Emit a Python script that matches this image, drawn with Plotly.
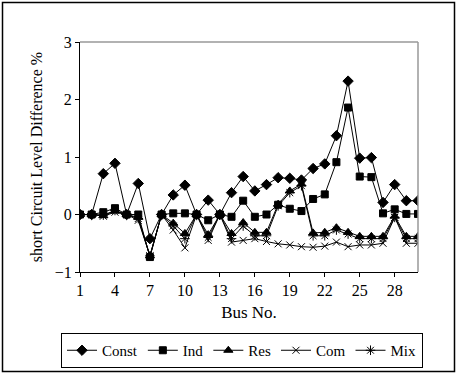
import plotly.graph_objects as go

bus = list(range(1, 31))
const = [0, 0, 0.71, 0.89, 0, 0.54, -0.42, 0, 0.34, 0.51, 0, 0.25, 0, 0.38, 0.66, 0.41, 0.52, 0.64, 0.63, 0.60, 0.80, 0.88, 1.37, 2.32, 0.98, 0.99, 0.21, 0.52, 0.24, 0.24]
ind = [0, 0, 0.04, 0.11, 0, 0.0, -0.74, 0, 0.02, 0.02, 0, -0.10, 0, -0.04, 0.24, -0.04, 0.0, 0.17, 0.10, 0.06, 0.27, 0.35, 0.91, 1.86, 0.66, 0.65, 0.02, 0.09, 0.01, 0.01]
res = [0, 0, -0.02, 0.06, 0, -0.05, -0.72, 0, -0.15, -0.33, 0, -0.35, 0, -0.33, -0.14, -0.31, -0.31, 0.18, 0.41, 0.53, -0.32, -0.31, -0.23, -0.31, -0.38, -0.38, -0.38, -0.03, -0.38, -0.38]
com = [0, 0, -0.03, 0.04, 0, -0.10, -0.72, 0, -0.27, -0.58, 0, -0.45, 0, -0.48, -0.45, -0.42, -0.47, -0.51, -0.53, -0.56, -0.57, -0.55, -0.48, -0.56, -0.53, -0.53, -0.50, -0.05, -0.50, -0.50]
mix = [0, 0, -0.01, 0.07, 0, -0.07, -0.72, 0, -0.20, -0.42, 0, -0.40, 0, -0.42, -0.20, -0.37, -0.37, 0.15, 0.38, 0.50, -0.37, -0.37, -0.27, -0.34, -0.42, -0.42, -0.42, -0.05, -0.42, -0.42]

names = ["Const", "Ind", "Res", "Com", "Mix"]
series = [const, ind, res, com, mix]
symbols = ["diamond", "square", "triangle-up", "x-thin-open", "asterisk-open"]
sizes = [8, 7, 8, 7, 8]

fig = go.Figure()
for n, s, sym, sz in zip(names, series, symbols, sizes):
    fig.add_trace(go.Scatter(
        x=bus, y=s, name=n, mode="lines+markers",
        line=dict(color="black", width=1),
        marker=dict(symbol=sym, size=sz, color="black", line=dict(color="black", width=1)),
    ))

W, H = 458, 374
L, R, T, B = 80, 40, 42, 102
pw, ph = W - L - R, H - T - B

def px(xp):
    return (xp - L) / pw

def py(yp):
    return (H - B - yp) / ph

fig.update_layout(
    width=W, height=H,
    margin=dict(l=L, r=R, t=T, b=B, autoexpand=False),
    paper_bgcolor="white", plot_bgcolor="white",
    font=dict(family="Liberation Serif", size=16, color="black"),
    showlegend=True,
    legend=dict(orientation="h", xref="paper", yref="paper",
                x=px(61), y=py(333), xanchor="left", yanchor="top",
                bordercolor="black", borderwidth=1, font=dict(size=15),
                itemwidth=30, tracegroupgap=0),
    xaxis=dict(range=[1, 30], tickmode="array", tickvals=list(range(1, 31, 3)),
               ticktext=[str(v) for v in range(1, 31, 3)],
               showline=True, linecolor="black", linewidth=1, ticks="outside", ticklen=4,
               tickcolor="black", showgrid=False, zeroline=False,
               title=dict(text="Bus No.", font=dict(size=17), standoff=7)),
    yaxis=dict(range=[-1, 3], dtick=1, showline=True, linecolor="black", linewidth=1,
               ticks="outside", ticklen=4, tickcolor="black", showgrid=False, zeroline=False,
               title=dict(text="short Circuit Level Difference %", font=dict(size=16), standoff=8)),
    shapes=[
        dict(type="line", xref="paper", yref="paper", x0=0, x1=1, y0=1, y1=1,
             line=dict(color="#999999", width=1.5)),
        dict(type="line", xref="paper", yref="paper", x0=1, x1=1, y0=0, y1=1,
             line=dict(color="#999999", width=1.5)),
        dict(type="rect", xref="paper", yref="paper", x0=px(2.5), x1=px(454.5), y0=py(371.5), y1=py(2.5),
             line=dict(color="black", width=1.5)),
    ],
)

fig.write_html("out.html")
